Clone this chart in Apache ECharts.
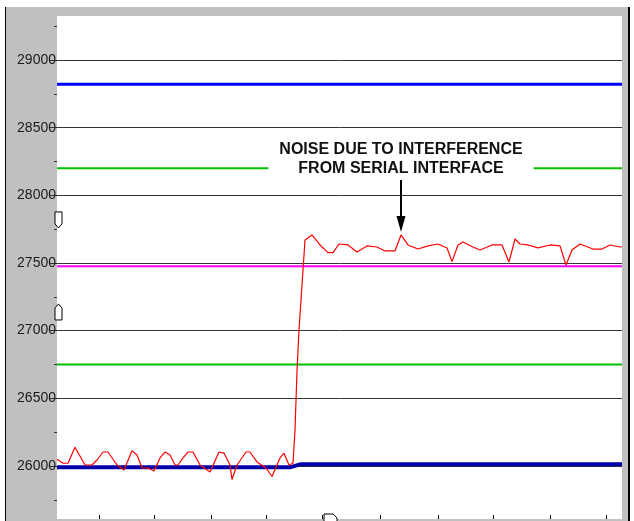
<!DOCTYPE html>
<html>
<head>
<meta charset="utf-8">
<script src="https://cdn.jsdelivr.net/npm/echarts@6/dist/echarts.min.js"></script>
<style>
  html, body { margin: 0; padding: 0; background: #fff; }
  #frame { position: absolute; left: 5px; top: 7px; width: 622px; height: 514px;
           background: #c0c0c0; border-left: 1px solid #000; border-right: 2px solid #000; }
  #chart { position: absolute; left: 0; top: 0; width: 634px; height: 521px; }
</style>
</head>
<body>
<div id="frame"></div>
<div id="chart"></div>
<script>
// y axis values (ADC codes)
var yLabels = [26000, 26500, 27000, 27500, 28000, 28500, 29000];
var yMinor = [25750, 26250, 26750, 27250, 27750, 28250, 28750, 29250];
var xTicks = [99, 154, 211, 266, 322, 380, 438, 493, 550, 606];

// horizontal reference levels
var upperBlue = 28820;
var upperGreen = 28200;
var magentaLevel = 27475;
var lowerGreen = 26750;
// thick blue trace (before / after the step)
var blueTrace = [[57, 25990], [290, 25990], [300, 26012], [622, 26012]];

// red trace: sample position, code
var redTrace = [
  [57, 26050], [63, 26020], [68, 26020], [75, 26138], [85, 26007], [92, 26007],
  [97, 26044], [103, 26103], [108, 26103], [117, 26007], [124, 25970], [132, 26113],
  [137, 26081], [142, 25985], [148, 25985], [154, 25963], [160, 26059], [165, 26103],
  [170, 26081], [175, 26007], [178, 26007], [183, 26059], [188, 26103], [193, 26103],
  [200, 26007], [210, 25955], [219, 26103], [224, 26095], [230, 26007], [232, 25900],
  [237, 26007], [246, 26103], [250, 26103], [257, 26030], [266, 25985], [272, 25922],
  [280, 26059], [284, 26094], [289, 26007], [293, 26020], [295, 26266], [297, 26700],
  [299, 27005], [302, 27337], [305, 27670], [312, 27707], [320, 27633], [328, 27576],
  [333, 27576], [339, 27640], [348, 27633], [357, 27581], [367, 27626], [377, 27618],
  [385, 27589], [395, 27589], [401, 27707], [408, 27633], [418, 27603], [428, 27626],
  [438, 27640], [447, 27611], [452, 27510], [458, 27633], [463, 27655], [473, 27618],
  [480, 27596], [492, 27633], [502, 27633], [509, 27507], [515, 27677], [520, 27640],
  [528, 27633], [538, 27611], [550, 27633], [560, 27626], [566, 27485], [572, 27596],
  [580, 27640], [593, 27603], [602, 27603], [610, 27633], [620, 27618], [622, 27620]
];

// annotated noise spike, and cursor positions
var spike = [401, 27707];
var cursorY = [27818, 27138];
var cursorX = [330];

var xMin = 57, xMax = 622, yMin = 25608, yMax = 29325;

function level(v) { return [[xMin, v], [xMax, v]]; }

var chart = echarts.init(document.getElementById('chart'));

var option = {
  animation: false,
  grid: { left: 57, top: 16, right: 12, bottom: 2, show: true,
          backgroundColor: '#fff', borderWidth: 0 },
  xAxis: {
    type: 'value', min: xMin, max: xMax,
    axisLine: { show: false },
    axisLabel: { show: false },
    splitLine: { show: false },
    axisTick: { show: true, inside: true, length: 4, customValues: xTicks,
                lineStyle: { color: '#000' } }
  },
  yAxis: [{
    type: 'value', min: yMin, max: yMax,
    axisLine: { show: false },
    axisTick: { show: true, length: 7, customValues: yLabels,
                lineStyle: { color: '#333' } },
    axisLabel: { customValues: yLabels, margin: 1, color: '#1a1a1a',
                 formatter: function (v) { return String(v); },
                 fontFamily: 'Liberation Sans, Arial, sans-serif', fontSize: 14 },
    splitLine: { show: true, lineStyle: { color: '#333', width: 1 } }
  }, {
    type: 'value', min: yMin, max: yMax, position: 'left',
    axisLine: { show: false },
    axisTick: { show: true, length: 3, customValues: yMinor,
                lineStyle: { color: '#333' } },
    axisLabel: { show: false },
    splitLine: { show: false }
  }],
  series: [
    { type: 'line', data: level(upperBlue), showSymbol: false,
      lineStyle: { color: '#0000ff', width: 3 } },
    { type: 'line', data: level(upperGreen), showSymbol: false,
      lineStyle: { color: '#00c000', width: 2 } },
    { type: 'line', data: level(magentaLevel), showSymbol: false,
      lineStyle: { color: '#ff00ff', width: 2 } },
    { type: 'line', data: level(lowerGreen), showSymbol: false,
      lineStyle: { color: '#00c000', width: 2 } },
    { type: 'line', data: blueTrace, showSymbol: false,
      lineStyle: { color: '#0000a8', width: 4 } },
    { type: 'line', data: redTrace, showSymbol: false,
      lineStyle: { color: '#ff0000', width: 1.2 } }
  ]
};

chart.setOption(option);

// annotation and cursor markers placed from data coordinates
var p = chart.convertToPixel({ gridIndex: 0 }, spike);
var tipY = p[1] - 3;
var elements = [
  { type: 'text', z: 100,
    style: { x: p[0], y: tipY - 96, text: 'NOISE DUE TO INTERFERENCE\nFROM SERIAL INTERFACE',
             align: 'center', verticalAlign: 'top', lineHeight: 19,
             fontFamily: 'Liberation Sans, Arial, sans-serif', fontWeight: 'bold', fontSize: 16,
             fill: '#111', backgroundColor: '#fff', padding: [4, 11, 4, 11] } },
  { type: 'line', z: 100,
    shape: { x1: p[0], y1: tipY - 52, x2: p[0], y2: tipY - 12 },
    style: { stroke: '#000', lineWidth: 2 } },
  { type: 'polygon', z: 100,
    shape: { points: [[p[0] - 4.5, tipY - 16], [p[0] + 4.5, tipY - 16], [p[0], tipY]] },
    style: { fill: '#000' } }
];

cursorY.forEach(function (v, i) {
  var c = chart.convertToPixel({ gridIndex: 0 }, [xMin, v]);
  var s = i === 0 ? 1 : -1;
  var pts = [[-3.5, -8 * s], [3.5, -8 * s], [3.5, 4 * s], [0, 8 * s], [-3.5, 4 * s]];
  elements.push({ type: 'polygon', z: 100,
    shape: { points: pts.map(function (q) { return [c[0] + 1.5 + q[0], c[1] + q[1]]; }) },
    style: { fill: '#fff', stroke: '#000', lineWidth: 1 } });
});

cursorX.forEach(function (v) {
  var c = chart.convertToPixel({ gridIndex: 0 }, [v, yMin]);
  var pts = [[-6, -5], [3, -5], [7, -1], [7, 4], [-6, 4]];
  elements.push({ type: 'polygon', z: 100,
    shape: { points: pts.map(function (q) { return [c[0] + q[0], c[1] + q[1]]; }) },
    style: { fill: '#fff', stroke: '#000', lineWidth: 1 } });
});

chart.setOption({ graphic: { elements: elements } });
</script>
</body>
</html>
